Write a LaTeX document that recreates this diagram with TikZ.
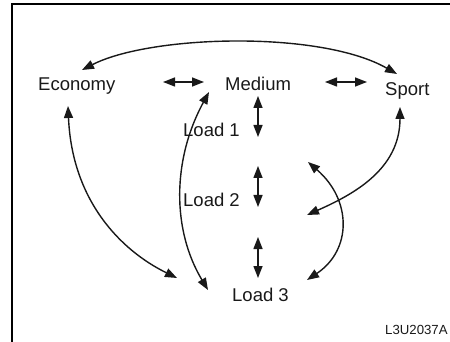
\documentclass[tikz,border=0pt]{standalone}
\usepackage{fontspec}
\setmainfont{Liberation Sans}
\usetikzlibrary{arrows.meta}
\begin{document}
\begin{tikzpicture}[x=1pt,y=-1pt,
  lbl/.style={anchor=base west,inner sep=0pt,font=\fontsize{18.5}{20}\selectfont,text=black!90},
  small/.style={anchor=base west,inner sep=0pt,font=\fontsize{13.2}{15}\selectfont,text=black!90},
  conn/.style={line width=1.4pt,black!90,{Triangle[length=12pt,width=9pt]}-{Triangle[length=12pt,width=9pt]}}]
\useasboundingbox (0,0) rectangle (450,342);
\begin{scope}
\clip (0,0) rectangle (450,342);
\draw[line width=2pt] (12,343) -- (12,4) -- (451,4);
% labels
\node[lbl] (eco) at (38,91) {Economy};
\node[lbl] (med) at (225,91) {Medium};
\node[lbl] (spo) at (385,96) {Sport};
\node[lbl] (l1) at (183,137) {Load 1};
\node[lbl] (l2) at (183,206) {Load 2};
\node[lbl] (l3) at (232,301) {Load 3};
\node[small] (code) at (385,334) {L3U2037A};
\end{scope}
% connector ends
\coordinate (ecoT) at (82,70);
\coordinate (spoT) at (397,74);
\coordinate (ecoR) at (163,82);
\coordinate (medL) at (204,82);
\coordinate (medR) at (325,82);
\coordinate (spoL) at (367,82);
\coordinate (medB) at (258,96);
\coordinate (l1T) at (258,137);
\coordinate (l1B) at (258,166);
\coordinate (l2T) at (258,207);
\coordinate (l2B) at (258,237);
\coordinate (l3T) at (258,278);
\coordinate (ecoB) at (68,106);
\coordinate (l3L) at (177,278);
\coordinate (medBL) at (209,92);
\coordinate (l3TL) at (208,290);
\coordinate (spoB) at (400,107);
\coordinate (l2R) at (307,215);
\coordinate (l1R) at (308,162);
\coordinate (l3R) at (307,280);
% connectors
\draw[conn] (ecoT) .. controls (150,35) and (320,30) .. (spoT);
\draw[conn] (ecoR) -- (medL);
\draw[conn] (medR) -- (spoL);
\draw[conn] (medB) -- (l1T);
\draw[conn] (l1B) -- (l2T);
\draw[conn] (l2B) -- (l3T);
\draw[conn] (ecoB) .. controls (72,200) and (120,250) .. (l3L);
\draw[conn] (medBL) .. controls (172,160) and (172,230) .. (l3TL);
\draw[conn] (spoB) .. controls (400,170) and (352,195) .. (l2R);
\draw[conn] (l1R) .. controls (352,200) and (352,250) .. (l3R);
\end{tikzpicture}
\end{document}
